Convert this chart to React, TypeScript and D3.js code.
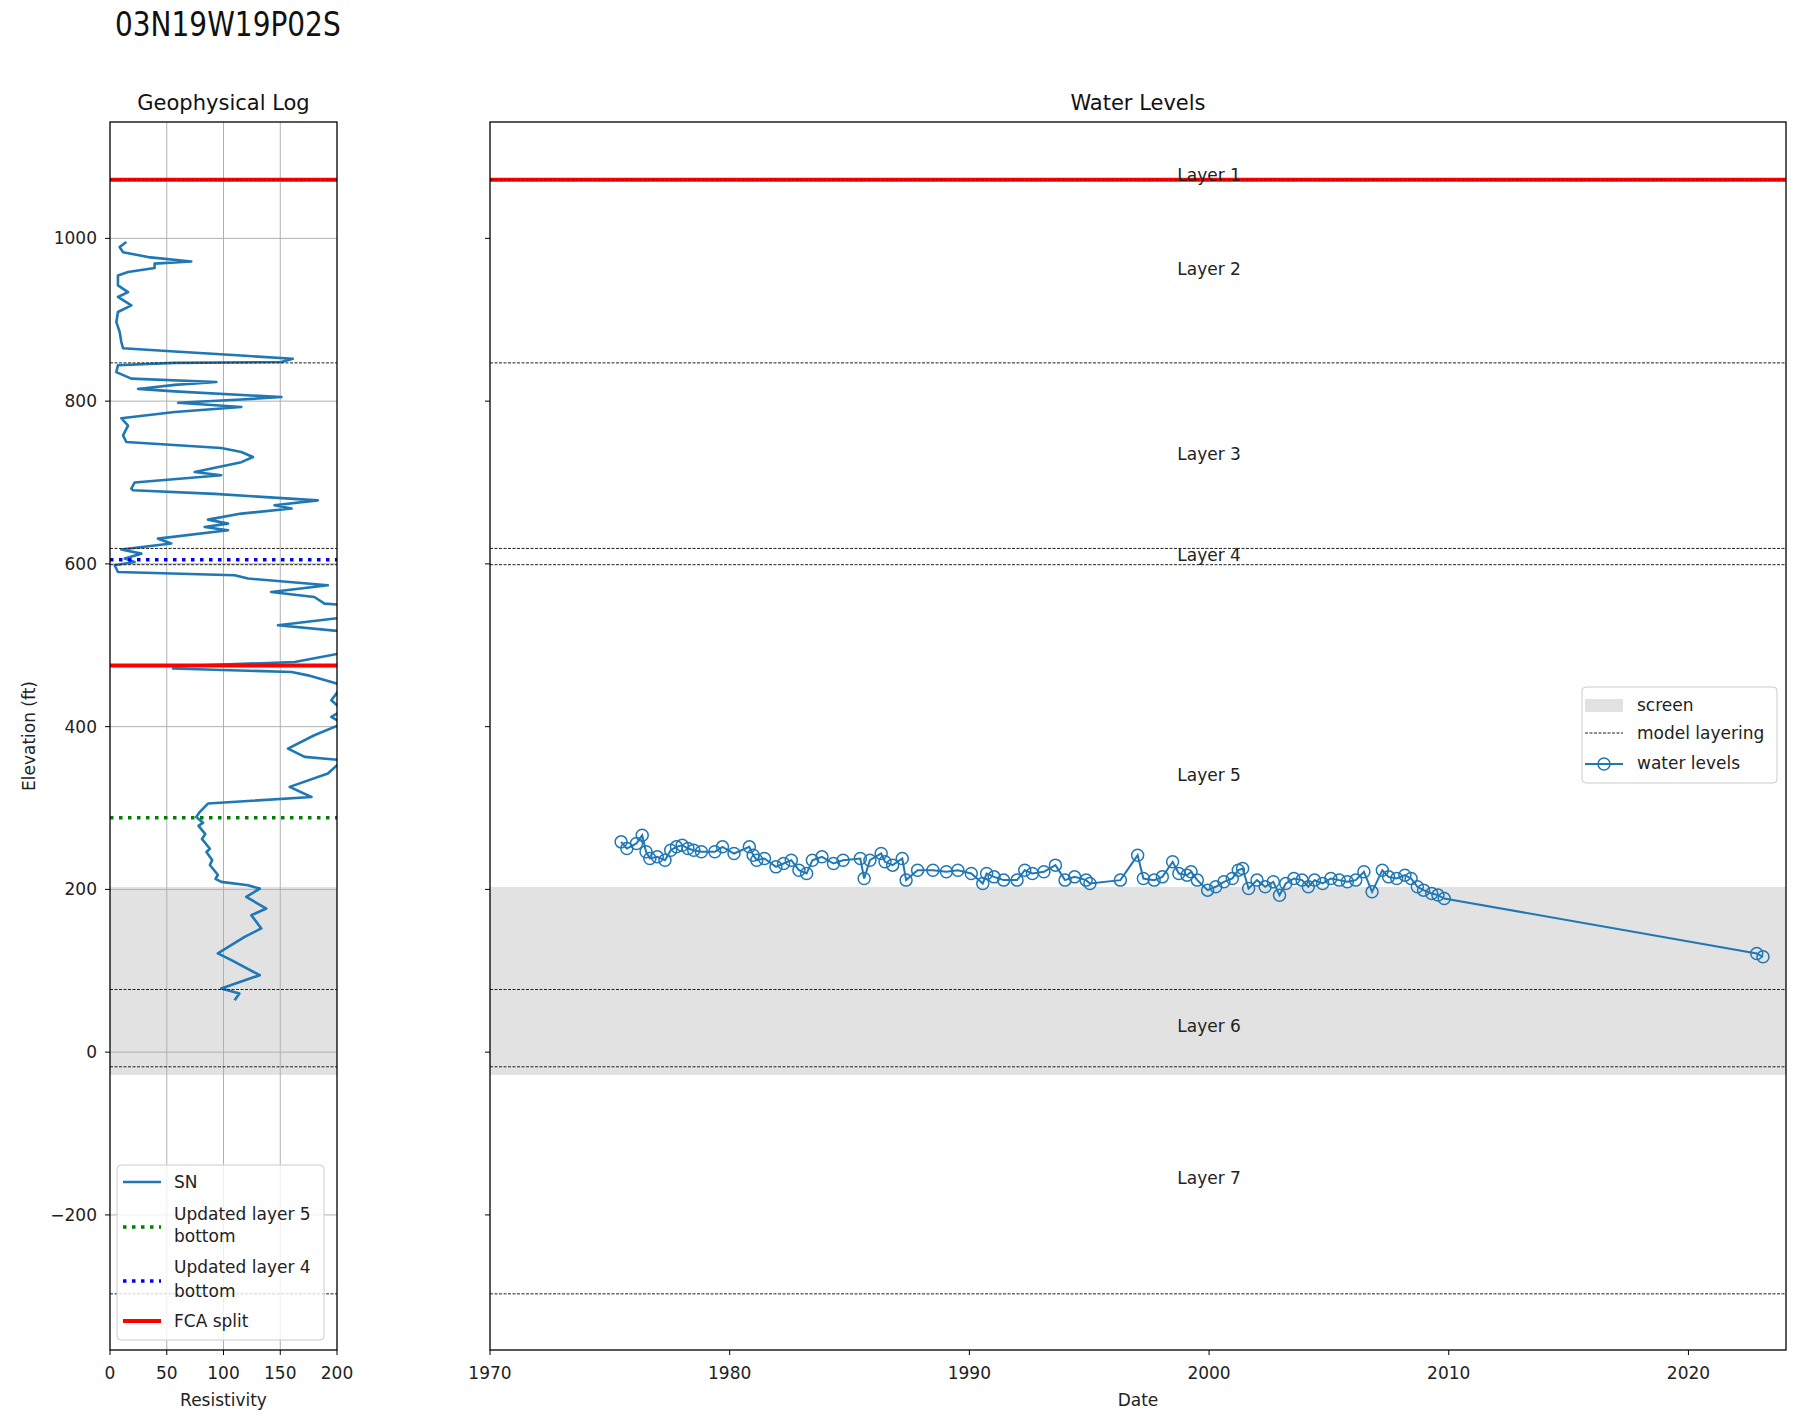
import * as d3 from 'd3';

// well id and axis ticks
const wellName = '03N19W19P02S';
const resTicks = [0, 50, 100, 150, 200];
const elevTicks = [-200, 0, 200, 400, 600, 800, 1000];
const yearTicks = [1970, 1980, 1990, 2000, 2010, 2020];

// SN resistivity log
const snRes = [
  14.4, 8.5, 11.5, 33.5, 71.6, 39.3, 39.3, 15.9, 7, 7, 15.9, 7, 18.8, 7, 5.6, 8.5, 10, 11.5,
  57, 115.7, 161, 151, 57, 7, 5.6, 18.8, 93.7, 57, 24.7, 57, 151, 115.7, 60, 115.7, 57, 10,
  15.9, 11.5, 14.4, 98, 115.7, 126, 115.7, 74.6, 98, 21.7, 18.8, 20.3, 92.2, 183, 145, 160,
  115.7, 86.3, 104, 83.4, 104, 42.3, 54, 10, 27.6, 13, 21.7, 4.1, 7, 109.8, 121.6, 192, 142,
  180, 189, 210, 210, 148, 210, 210, 162.7, 57, 55.5, 160, 174.5, 205, 195, 205, 195, 205,
  180, 156.8, 171.5, 205, 192, 158.3, 177.5, 86.3, 79, 76, 82, 78, 84, 81, 88, 85, 90, 88,
  95, 93, 98, 121.6, 132, 120, 137.7, 124.5, 133.3, 118.6, 95, 107, 132, 98, 114, 109.8,
];
const snElev = [
  995.5, 989.3, 983, 977, 971.6, 969, 963.6, 958.6, 954.5, 942.3, 934, 928, 917.7, 909.5, 897,
  885, 872.6, 865, 861, 856, 852, 848, 847, 844, 835.7, 827.6, 823.5, 820, 815, 812, 805, 802,
  798, 792.8, 786.6, 779, 770, 758, 749.8, 742.4, 737.5, 731.3, 725, 713, 709, 700, 692.5,
  690.4, 686, 678, 672, 668, 661.8, 654.4, 649.5, 645.4, 641.3, 631, 625, 617.6, 612.6, 606.5,
  602.4, 598.3, 590, 586, 582, 573.7, 565.5, 559.3, 551.2, 549, 534.8, 524.6, 516.3, 491.8,
  479.5, 474, 471.4, 467.2, 463, 450.9, 432.4, 420, 412, 403.8, 389.4, 373, 362.8, 358.7,
  342.4, 326, 313.6, 305.5, 295, 289, 282, 278, 268, 262, 250, 246, 236, 230, 218, 213, 209.2,
  205, 201, 190.8, 176.5, 168.3, 152, 141.6, 121.3, 113, 94.6, 78.3, 72, 63.9,
];

// water level measurements (decimal year, elevation ft)
const wlYear = [
  1975.47, 1975.71, 1976.11, 1976.35, 1976.51, 1976.67, 1976.98, 1977.3, 1977.54, 1977.78,
  1978.02, 1978.26, 1978.5, 1978.82, 1979.38, 1979.7, 1980.18, 1980.82, 1980.98, 1981.13,
  1981.45, 1981.93, 1982.25, 1982.57, 1982.89, 1983.21, 1983.45, 1983.85, 1984.33, 1984.73,
  1985.45, 1985.61, 1985.85, 1986.32, 1986.48, 1986.8, 1987.2, 1987.36, 1987.84, 1988.48,
  1989.04, 1989.52, 1990.08, 1990.56, 1990.72, 1991.03, 1991.43, 1991.99, 1992.31, 1992.63,
  1993.11, 1993.59, 1993.99, 1994.39, 1994.87, 1995.03, 1996.3, 1997.02, 1997.26, 1997.71,
  1998.05, 1998.48, 1998.74, 1999.08, 1999.25, 1999.51, 1999.94, 2000.28, 2000.62, 2000.97,
  2001.22, 2001.4, 2001.65, 2002.0, 2002.34, 2002.68, 2002.94, 2003.2, 2003.54, 2003.88,
  2004.14, 2004.4, 2004.74, 2005.08, 2005.43, 2005.77, 2006.12, 2006.46, 2006.8, 2007.23,
  2007.49, 2007.83, 2008.17, 2008.43, 2008.69, 2008.95, 2009.29, 2009.55, 2009.81, 2022.85,
  2023.11,
];
const wlElev = [
  258.4, 250.2, 256.4, 266.6, 246.2, 238, 240, 235.9, 248.2, 252.3, 254.3, 250.2, 248.2, 246.2,
  246.2, 252.3, 244.1, 252.3, 242, 235.9, 238, 227.7, 231.8, 235.9, 223.6, 219.5, 235.9, 240,
  231.8, 235.9, 238, 213.4, 235.9, 244.1, 233.9, 229.8, 238, 211.4, 223.6, 223.6, 221.6, 223.6,
  219.5, 207.3, 219.5, 215.4, 211.4, 211.4, 223.6, 219.5, 221.6, 229.8, 211.4, 215.4, 211.4,
  207.3, 211.4, 242, 213.4, 211.4, 215.4, 233.9, 219.5, 217.5, 221.6, 211.4, 199.1, 203.2,
  209.3, 213.4, 223.6, 225.7, 201.1, 211.4, 203.2, 209.3, 192.9, 207.3, 213.4, 211.4, 203.2,
  211.4, 207.3, 213.4, 211.4, 209.3, 211.4, 221.6, 197, 223.6, 215.4, 213.4, 217.5, 213.4,
  203.2, 199.1, 195, 193, 188.8, 121.3, 117.2,
];

// model layering and markers
const layerNames = ['Layer 1', 'Layer 2', 'Layer 3', 'Layer 4', 'Layer 5', 'Layer 6', 'Layer 7'];
const layerBottoms = [1072, 847, 619, 599, 77, -18, -297];
const landSurface = 1080;
const screenTop = 203;
const screenBottom = -28;
const fcaSplit = [1072, 475];
const updatedL5Bottom = 288;
const updatedL4Bottom = 605;

const BLUE = '#1f77b4';
const FONT = 'DejaVu Sans';

export default function App() {
  const top = 122;
  const bottom = 1350;
  const y = d3.scaleLinear().domain([-366, 1143]).range([bottom, top]);
  const xRes = d3.scaleLinear().domain([0, 200]).range([110, 337]);
  const xDate = d3.scaleLinear().domain([1970, 2024.07]).range([490, 1786]);
  const [lx0, lx1] = xRes.range();
  const [rx0, rx1] = xDate.range();

  const snLine = d3.line<number>()
    .x(i => xRes(snRes[i]))
    .y(i => y(snElev[i]));
  const wlLine = d3.line<number>()
    .x(i => xDate(wlYear[i]))
    .y(i => y(wlElev[i]));

  const layerTops = [landSurface, ...layerBottoms.slice(0, -1)];
  const labelYear = 2000;

  const hline = (x0: number, x1: number, v: number, stroke: string, w: number, dash?: string, key?: string) => (
    <line key={key} x1={x0} x2={x1} y1={y(v)} y2={y(v)} stroke={stroke} strokeWidth={w} strokeDasharray={dash} />
  );

  return (
    <svg width={1795} height={1416} style={{ position: 'absolute', left: 0, top: 0, background: '#fff' }}
      fontFamily={FONT}>
      <defs>
        <clipPath id="clipL"><rect x={lx0} y={top} width={lx1 - lx0} height={bottom - top} /></clipPath>
        <clipPath id="clipR"><rect x={rx0} y={top} width={rx1 - rx0} height={bottom - top} /></clipPath>
      </defs>

      <text x={115} y={36} fontSize={28} fill="#111" transform="translate(0,0) scale(1,1.18)" style={{ transformOrigin: '115px 36px' }}>{wellName}</text>

      {/* ---------- left panel: geophysical log ---------- */}
      <text x={(lx0 + lx1) / 2} y={110} fontSize={21} textAnchor="middle" fill="#111">Geophysical Log</text>
      <g clipPath="url(#clipL)">
        <rect x={lx0} width={lx1 - lx0} y={y(screenTop)} height={y(screenBottom) - y(screenTop)} fill="#d3d3d3" opacity={0.65} />
        {resTicks.slice(1, -1).map(t => (
          <line key={'gx' + t} x1={xRes(t)} x2={xRes(t)} y1={top} y2={bottom} stroke="#b0b0b0" strokeWidth={1} />
        ))}
        {elevTicks.map(t => hline(lx0, lx1, t, '#b0b0b0', 1, undefined, 'gy' + t))}
        <path d={snLine(d3.range(snRes.length)) || ''} fill="none" stroke={BLUE} strokeWidth={2.6} strokeLinejoin="round" />
        {layerBottoms.map(b => hline(lx0, lx1, b, '#222', 1, '3,1.5', 'll' + b))}
        {hline(lx0, lx1, updatedL5Bottom, 'green', 3.5, '3.5,5.5')}
        {hline(lx0, lx1, updatedL4Bottom, 'blue', 3.5, '3.5,5.5')}
        {fcaSplit.map(v => hline(lx0, lx1, v, 'red', 4, undefined, 'fl' + v))}
        {hline(lx0, lx1, layerBottoms[0], '#222', 1, '3,1.5')}
      </g>
      <rect x={lx0} y={top} width={lx1 - lx0} height={bottom - top} fill="none" stroke="#000" strokeWidth={1.3} />
      {elevTicks.map(t => (
        <g key={'yt' + t}>
          <line x1={lx0 - 5} x2={lx0} y1={y(t)} y2={y(t)} stroke="#000" strokeWidth={1} />
          <text x={97} y={y(t) + 6} fontSize={17} textAnchor="end" fill="#222">{t < 0 ? '\u2212' + Math.abs(t) : t}</text>
        </g>
      ))}
      {resTicks.map(t => (
        <g key={'xt' + t}>
          <line x1={xRes(t)} x2={xRes(t)} y1={bottom} y2={bottom + 5} stroke="#000" strokeWidth={1} />
          <text x={xRes(t)} y={1379} fontSize={17} textAnchor="middle" fill="#222">{t}</text>
        </g>
      ))}
      <text x={(lx0 + lx1) / 2} y={1406} fontSize={17} textAnchor="middle" fill="#222">Resistivity</text>
      <text transform={`translate(35,${(top + bottom) / 2}) rotate(-90)`} fontSize={17} textAnchor="middle" fill="#222">Elevation (ft)</text>

      {/* left legend */}
      <g>
        <rect x={117} y={1165} width={207} height={175} rx={4} fill="#fff" fillOpacity={0.8} stroke="#ccc" strokeWidth={1} />
        <line x1={123} x2={161} y1={1182} y2={1182} stroke={BLUE} strokeWidth={2.6} />
        <text x={174} y={1188} fontSize={17} fill="#222">SN</text>
        <line x1={123} x2={161} y1={1227} y2={1227} stroke="green" strokeWidth={3.5} strokeDasharray="3.5,5.5" />
        <text x={174} y={1220} fontSize={17} fill="#222">Updated layer 5</text>
        <text x={174} y={1242} fontSize={17} fill="#222">bottom</text>
        <line x1={123} x2={161} y1={1281} y2={1281} stroke="blue" strokeWidth={3.5} strokeDasharray="3.5,5.5" />
        <text x={174} y={1273} fontSize={17} fill="#222">Updated layer 4</text>
        <text x={174} y={1297} fontSize={17} fill="#222">bottom</text>
        <line x1={123} x2={161} y1={1321} y2={1321} stroke="red" strokeWidth={4} />
        <text x={174} y={1327} fontSize={17} fill="#222">FCA split</text>
      </g>

      {/* ---------- right panel: water levels ---------- */}
      <text x={(rx0 + rx1) / 2} y={110} fontSize={21} textAnchor="middle" fill="#111">Water Levels</text>
      <g clipPath="url(#clipR)">
        <rect x={rx0} width={rx1 - rx0} y={y(screenTop)} height={y(screenBottom) - y(screenTop)} fill="#d3d3d3" opacity={0.65} />
        {hline(rx0, rx1, fcaSplit[0], 'red', 4)}
        {layerBottoms.map(b => hline(rx0, rx1, b, '#222', 1, '3,1.5', 'rl' + b))}
        {layerNames.map((n, i) => (
          <text key={n} x={xDate(labelYear)} y={y((layerTops[i] + layerBottoms[i]) / 2) + 4} fontSize={17} textAnchor="middle" fill="#222">{n}</text>
        ))}
        <path d={wlLine(d3.range(wlYear.length)) || ''} fill="none" stroke={BLUE} strokeWidth={2} />
        {wlYear.map((yr, i) => (
          <circle key={'wl' + i} cx={xDate(yr)} cy={y(wlElev[i])} r={6} fill="none" stroke={BLUE} strokeWidth={1.5} />
        ))}
      </g>
      <rect x={rx0} y={top} width={rx1 - rx0} height={bottom - top} fill="none" stroke="#000" strokeWidth={1.3} />
      {elevTicks.map(t => (
        <line key={'ryt' + t} x1={rx0 - 5} x2={rx0} y1={y(t)} y2={y(t)} stroke="#000" strokeWidth={1} />
      ))}
      {yearTicks.map(t => (
        <g key={'dt' + t}>
          <line x1={xDate(t)} x2={xDate(t)} y1={bottom} y2={bottom + 5} stroke="#000" strokeWidth={1} />
          <text x={xDate(t)} y={1379} fontSize={17} textAnchor="middle" fill="#222">{t}</text>
        </g>
      ))}
      <text x={(rx0 + rx1) / 2} y={1406} fontSize={17} textAnchor="middle" fill="#222">Date</text>

      {/* right legend */}
      <g>
        <rect x={1582} y={687} width={195} height={96} rx={4} fill="#fff" fillOpacity={0.8} stroke="#ccc" strokeWidth={1} />
        <rect x={1585} y={699} width={38} height={13} fill="#d3d3d3" opacity={0.65} />
        <text x={1637} y={711} fontSize={17} fill="#222">screen</text>
        <line x1={1585} x2={1623} y1={733} y2={733} stroke="#222" strokeWidth={1} strokeDasharray="3,1.5" />
        <text x={1637} y={739} fontSize={17} fill="#222">model layering</text>
        <line x1={1585} x2={1623} y1={764} y2={764} stroke={BLUE} strokeWidth={2} />
        <circle cx={1604} cy={764} r={6} fill="none" stroke={BLUE} strokeWidth={1.5} />
        <text x={1637} y={769} fontSize={17} fill="#222">water levels</text>
      </g>
    </svg>
  );
}
